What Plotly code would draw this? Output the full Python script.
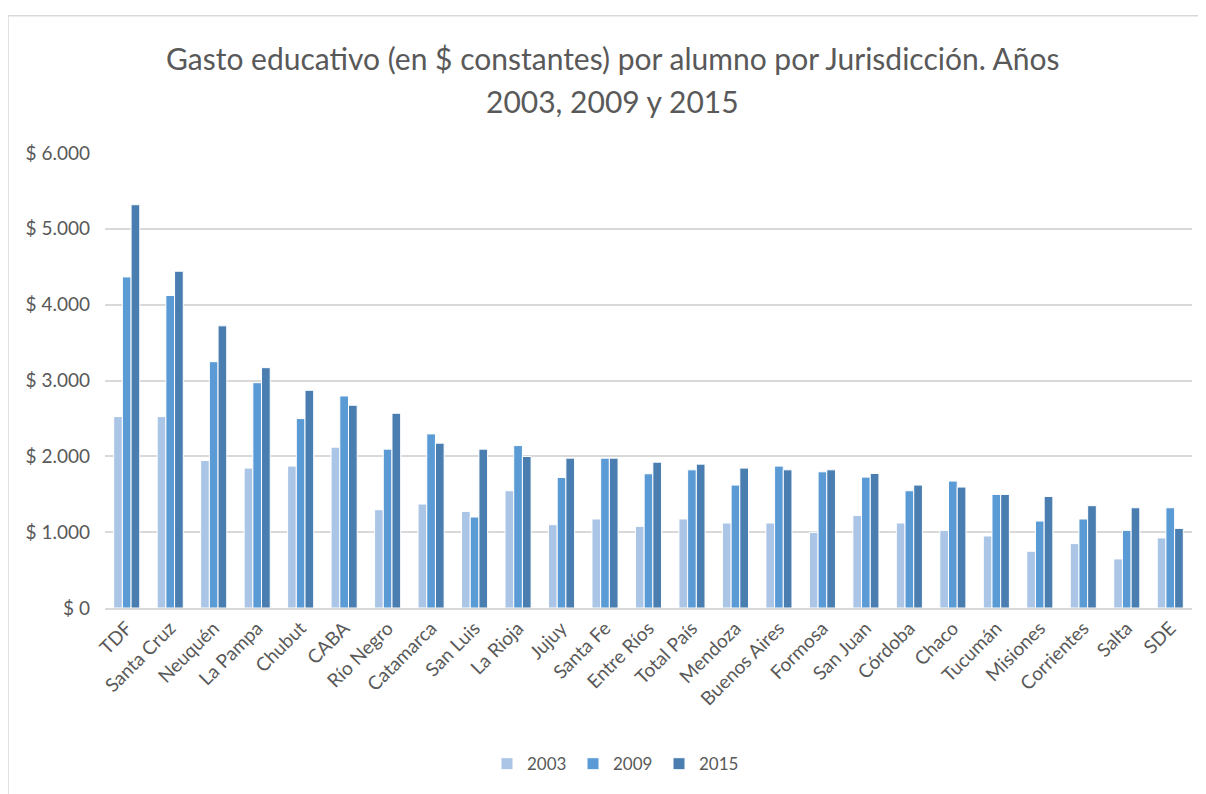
import plotly.graph_objects as go

categories = ["TDF", "Santa Cruz", "Neuquén", "La Pampa", "Chubut", "CABA", "Río Negro",
              "Catamarca", "San Luis", "La Rioja", "Jujuy", "Santa Fe", "Entre Ríos",
              "Total País", "Mendoza", "Buenos Aires", "Formosa", "San Juan", "Córdoba",
              "Chaco", "Tucumán", "Misiones", "Corrientes", "Salta", "SDE"]

v2003 = [2524, 2524, 1945, 1845, 1871, 2121, 1296, 1371, 1274, 1546, 1099, 1174, 1077,
         1174, 1121, 1121, 997, 1221, 1121, 1024, 950, 748, 849, 647, 924]
v2009 = [4366, 4121, 3248, 2971, 2498, 2796, 2095, 2296, 1200, 2142, 1721, 1976, 1770,
         1822, 1621, 1871, 1796, 1726, 1546, 1674, 1498, 1147, 1174, 1024, 1322]
v2015 = [5318, 4441, 3721, 3169, 2871, 2674, 2568, 2174, 2095, 1998, 1976, 1976, 1923,
         1897, 1845, 1822, 1822, 1774, 1621, 1595, 1498, 1471, 1349, 1322, 1050]

series_names = ["2003", "2009", "2015"]
series_values = [v2003, v2009, v2015]
series_colors = ["#abc5e6", "#5b9bd5", "#4a7eb1"]

tick_vals = [0, 1000, 2000, 3000, 4000, 5000, 6000]
tick_text = ["$ 0", "$ 1.000", "$ 2.000", "$ 3.000", "$ 4.000", "$ 5.000", "$ 6.000"]

title_lines = ["Gasto educativo (en $ constantes) por alumno por Jurisdicción. Años",
               "2003, 2009 y 2015"]

FONT = "Lato"
GREY = "#595959"
OFF = 8  # page body offset

fig = go.Figure()
for name, vals, col in zip(series_names, series_values, series_colors):
    fig.add_trace(go.Bar(x=categories, y=vals, name=name,
                         marker=dict(color=col, line=dict(color="white", width=1))))

W, H = 1206, 794
L = 105 - OFF
T = 152.5 - OFF
R = W - (1192 - OFF)
B = H - (608.5 - OFF)
pw, ph = W - L - R, H - T - B

def px_x(x):
    return (x - OFF - L) / pw

def px_y(y):
    return (H - B - (y - OFF)) / ph

fig.update_layout(
    width=W, height=H,
    margin=dict(l=L, r=R, t=T, b=B),
    paper_bgcolor="white", plot_bgcolor="white",
    barmode="group", bargap=0.40, bargroupgap=0.0,
    font=dict(family=FONT, color=GREY, size=18),
    showlegend=True,
    legend=dict(orientation="h", x=px_x(487), xanchor="left", y=px_y(765), yanchor="middle",
                font=dict(size=17, color=GREY), itemwidth=30, traceorder="normal",
                entrywidth=41, entrywidthmode="pixels"),
    xaxis=dict(tickangle=-45, showgrid=False, showline=True, linecolor="#d9d9d9", linewidth=1.5,
               tickfont=dict(size=19, color=GREY), ticks=""),
    yaxis=dict(range=[0, 6000], tickvals=tick_vals, ticktext=tick_text, showgrid=True,
               gridcolor="#d9d9d9", gridwidth=1.5, zeroline=False, showline=False,
               tickfont=dict(size=19, color=GREY), ticks="", ticklabelstandoff=14),
)

for i, line in enumerate(title_lines):
    fig.add_annotation(text=line, xref="paper", yref="paper", x=px_x(612), y=px_y(57 + 43 * i),
                       xanchor="center", yanchor="middle", showarrow=False,
                       font=dict(family=FONT, size=30, color=GREY))

# chart border (top and left edges)
fig.add_shape(type="line", xref="paper", yref="paper", x0=px_x(8), x1=px_x(1220), y0=px_y(15), y1=px_y(15),
              line=dict(color="#d9d9d9", width=1.5))
fig.add_shape(type="line", xref="paper", yref="paper", x0=px_x(8), x1=px_x(8), y0=px_y(15), y1=px_y(810),
              line=dict(color="#d9d9d9", width=1.5))

fig.write_html("out.html")
